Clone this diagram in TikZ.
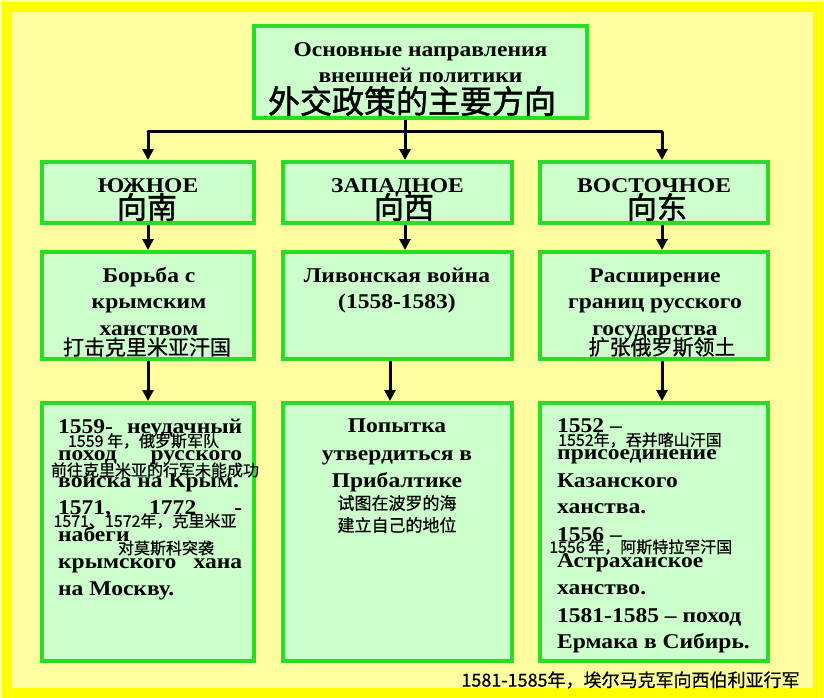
\documentclass[tikz,border=0pt]{standalone}
\usepackage{fontspec}
\setmainfont{Liberation Serif}[FakeStretch=1.12]
\newfontfamily\cjk{Noto Sans CJK SC}[FakeBold=0.6]
\newfontfamily\cjkheavy{Noto Sans CJK SC}[FakeBold=1.6]
\usetikzlibrary{arrows.meta}
\definecolor{bgyellow}{RGB}{255,255,160}
\definecolor{rimyellow}{RGB}{255,255,0}
\definecolor{boxgreen}{RGB}{40,220,40}
\definecolor{boxfill}{RGB}{204,255,204}
\tikzset{
  box/.style={draw=boxgreen,line width=4pt,fill=boxfill,inner sep=0pt},
  ru/.style={font=\bfseries\fontsize{21}{27}\selectfont,anchor=base,inner sep=0pt},
  cn/.style={font=\cjk\fontsize{16}{19}\selectfont,inner sep=0pt},
  cnbig/.style={font=\cjkheavy\fontsize{30}{34}\selectfont,inner sep=0pt},
  arr/.style={line width=3pt,-{Triangle[length=11pt,width=11pt]}}
}
\begin{document}
\begin{tikzpicture}[x=1pt,y=-1pt]
    \useasboundingbox(0,0)rectangle(824,698);
    \fill[bgyellow](0,0)rectangle(824,698);
    \draw[rimyellow,line width=10pt](7,7)rectangle(818,693);
    % boxes
    \node[box,minimum width=333pt,minimum height=92pt](main) at(420.5,72){};
    \node[box,minimum width=212pt,minimum height=61pt](dirS) at(148,192.5){};
    \node[box,minimum width=229pt,minimum height=61pt](dirW) at(397.5,192.5){};
    \node[box,minimum width=228pt,minimum height=61pt](dirE) at(654,192.5){};
    \node[box,minimum width=212pt,minimum height=107pt](aimS) at(148,305.5){};
    \node[box,minimum width=229pt,minimum height=107pt](aimW) at(397.5,305.5){};
    \node[box,minimum width=228pt,minimum height=107pt](aimE) at(654,305.5){};
    \node[box,minimum width=212pt,minimum height=258pt](factS) at(148,532){};
    \node[box,minimum width=229pt,minimum height=258pt](factW) at(397.5,532){};
    \node[box,minimum width=228pt,minimum height=258pt](factE) at(654,532){};
    % connectors
    \coordinate(hubS) at(148,132);
    \coordinate(hubW) at(405,132);
    \coordinate(hubE) at(662,132);
    \draw[line width=3pt](main.south -| hubW)--(hubW);
    \draw[line width=3pt,line cap=round](hubS)--(hubE);
    \draw[arr](hubS)--(hubS |- dirS.north);
    \draw[arr](hubW)--(hubW |- dirW.north);
    \draw[arr](hubE)--(hubE |- dirE.north);
    \draw[arr](dirS.south)--(aimS.north);
    \draw[arr]([xshift=7.5pt]dirW.south)--([xshift=7.5pt]aimW.north);
    \draw[arr]([xshift=8pt]dirE.south)--([xshift=8pt]aimE.north);
    \draw[arr](aimS.south)--(factS.north);
    \draw[arr]([xshift=-7.5pt]aimW.south)--([xshift=-7.5pt]factW.north);
    \draw[arr]([xshift=8pt]aimE.south)--([xshift=8pt]factE.north);
    % title
    \node[ru](mainA) at(420.5,57){Основные направления};
    \node[ru](mainB) at(420.5,83){внешней политики};
    \node[cn,font=\cjkheavy\fontsize{32}{36}\selectfont](mainC) at(412,101){外交政策的主要方向};
    % directions
    \node[ru](dirSa) at(148,192){ЮЖНОЕ};
    \node[cnbig](dirSb) at(147,207){向南};
    \node[ru](dirWa) at(397.5,192){ЗАПАДНОЕ};
    \node[cnbig](dirWb) at(404,207){向西};
    \node[ru](dirEa) at(654,192){ВОСТОЧНОЕ};
    \node[cnbig](dirEb) at(657,207){向东};
    % aims
    \node[ru](aimSa) at(149,282){Борьба с};
    \node[ru](aimSb) at(149,308){крымским};
    \node[ru](aimSc) at(149,335){ханством};
    \node[cn,font=\cjk\fontsize{21}{24}\selectfont](aimSd) at(147,347){打击克里米亚汗国};
    \node[ru](aimWa) at(397,282){Ливонская война};
    \node[ru](aimWb) at(397,308){(1558-1583)};
    \node[ru](aimEa) at(655,282){Расширение};
    \node[ru](aimEb) at(655,308){границ русского};
    \node[ru](aimEc) at(655,335){государства};
    \node[cn,font=\cjk\fontsize{21}{24}\selectfont](aimEd) at(662,347){扩张俄罗斯领土};
    % facts south
    \node[ru,anchor=base west](factSa) at(58,433){\makebox[184pt][s]{1559-\hfill неудачный}};
    \node[ru,anchor=base west](factSb) at(58,460){\makebox[184pt][s]{поход\hfill русского}};
    \node[ru,anchor=base west](factSc) at(58,487){войска на Крым.};
    \node[ru,anchor=base west](factSd) at(58,514){\makebox[184pt][s]{1571,\hfill 1772\hfill -}};
    \node[ru,anchor=base west](factSe) at(58,541){набеги};
    \node[ru,anchor=base west](factSf) at(58,568){\makebox[184pt][s]{крымского\hfill хана}};
    \node[ru,anchor=base west](factSg) at(58,595){на Москву.};
    \node[cn](noteSa) at(143.5,441){1559 年，俄罗斯军队};
    \node[cn](noteSb) at(155,470){前往克里米亚的行军未能成功};
    \node[cn](noteSc) at(145,521){1571、1572年，克里米亚};
    \node[cn](noteSd) at(166,548){对莫斯科突袭};
    % facts west
    \node[ru](factWa) at(397,432){Попытка};
    \node[ru](factWb) at(397,460){утвердиться в};
    \node[ru](factWc) at(397,487){Прибалтике};
    \node[cn,font=\cjk\fontsize{17}{20}\selectfont](noteWa) at(397,503){试图在波罗的海};
    \node[cn,font=\cjk\fontsize{17}{20}\selectfont](noteWb) at(397,525){建立自己的地位};
    % facts east
    \node[ru,anchor=base west](factEa) at(557,432){1552 –};
    \node[ru,anchor=base west](factEb) at(557,459){присоединение};
    \node[ru,anchor=base west](factEc) at(557,487){Казанского};
    \node[ru,anchor=base west](factEd) at(557,513){ханства.};
    \node[ru,anchor=base west](factEe) at(557,541){1556 –};
    \node[ru,anchor=base west](factEf) at(557,567){Астраханское};
    \node[ru,anchor=base west](factEg) at(557,594){ханство.};
    \node[ru,anchor=base west](factEh) at(557,622){1581-1585 – поход};
    \node[ru,anchor=base west](factEi) at(557,648){Ермака в Сибирь.};
    \node[cn,anchor=west](noteEa) at(558,440){1552年，吞并喀山汗国};
    \node[cn,anchor=west](noteEb) at(549,547){1556 年，阿斯特拉罕汗国};
    \node[cn,font=\cjk\fontsize{18}{21}\selectfont](noteEc) at(630.5,680){1581-1585年，埃尔马克军向西伯利亚行军};
\end{tikzpicture}
\end{document}
